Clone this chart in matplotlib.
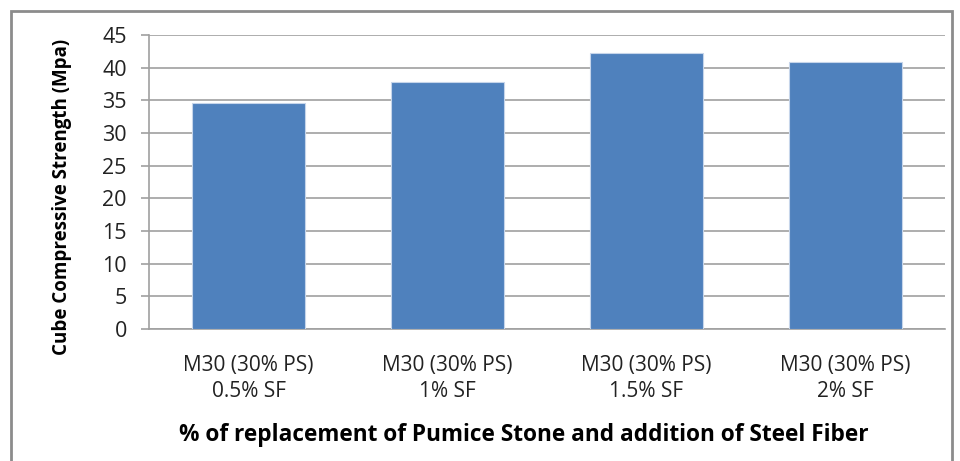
import matplotlib.pyplot as plt
import matplotlib.patches as mpatches
import numpy as np

# Data
categories = ['M30 (30% PS)\n0.5% SF', 'M30 (30% PS)\n1% SF',
              'M30 (30% PS)\n1.5% SF', 'M30 (30% PS)\n2% SF']
strength = [34.6, 37.8, 42.3, 40.9]
y_ticks = [0, 5, 10, 15, 20, 25, 30, 35, 40, 45]

plt.rcParams['font.family'] = ['Open Sans', 'DejaVu Sans']

fig = plt.figure(figsize=(9.6, 4.61), dpi=100)
ax = fig.add_axes([149/960, 1 - 329/461, (945 - 149)/960, (329 - 35)/461])

# outer chart border
fig.patches.append(mpatches.Rectangle((11/960, -0.05), (952 - 11)/960, 1 - 11/461 + 0.05,
                                      transform=fig.transFigure, fill=False,
                                      edgecolor='#8c8c8c', linewidth=2))

x = np.arange(len(categories))
ax.bar(x, strength, width=0.57, color='#4F81BD', edgecolor='#c6d5ea', linewidth=0.8, zorder=3)

ax.set_xlim(-0.5, len(categories) - 0.5)
ax.set_ylim(0, 45)
ax.set_yticks(y_ticks)
ax.set_yticklabels([str(v) for v in y_ticks], fontsize=15.5, color='#222222')
ax.set_xticks(x)
ax.set_xticklabels(categories, fontsize=15, color='#222222', linespacing=1.3)

ax.grid(True, axis='y', color='#a0a0a0', linewidth=1.2, zorder=0)
ax.set_axisbelow(True)
for side in ['top', 'right']:
    ax.spines[side].set_visible(False)
ax.spines['left'].set_color('#a0a0a0')
ax.spines['bottom'].set_color('#a0a0a0')
ax.spines['left'].set_linewidth(1.2)
ax.spines['bottom'].set_linewidth(1.2)
ax.tick_params(axis='y', length=6, color='#a0a0a0', width=1.2, pad=10)
ax.tick_params(axis='x', length=0, pad=19)

ax.set_ylabel('Cube Compressive Strength (Mpa)', fontsize=13.5, fontweight='bold', va='center')
ax.yaxis.set_label_coords(-0.109, 0.449)
ax.set_xlabel('% of replacement of Pumice Stone and addition of Steel Fiber',
              fontsize=16.3, fontweight='bold', va='center')
ax.xaxis.set_label_coords(0.471, -0.36)

plt.savefig('out.png', dpi=100, facecolor='white')
